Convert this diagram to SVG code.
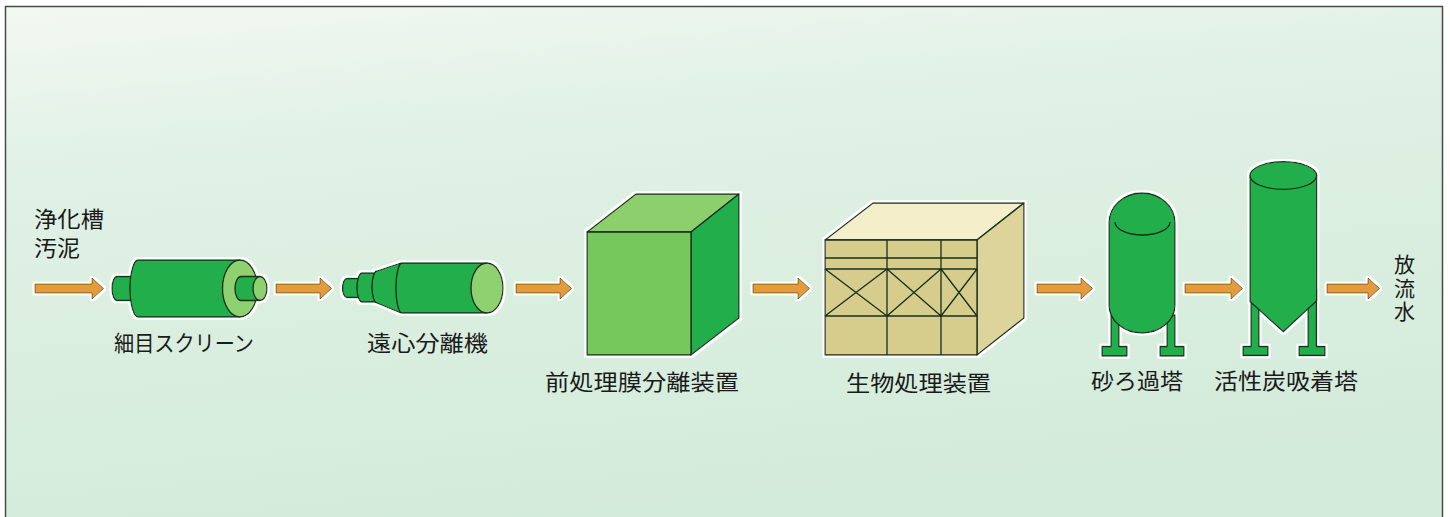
<svg xmlns="http://www.w3.org/2000/svg" width="1450" height="517" viewBox="0 0 1450 517">
  <style>
    .lbl { font-family: "Noto Sans CJK JP", "Noto Sans CJK SC", sans-serif; font-size: 22px; fill: #1a1a1a; }
    .vlbl { font-family: "Noto Sans CJK JP", "Noto Sans CJK SC", sans-serif; font-size: 21px; fill: #1a1a1a; letter-spacing: 2.5px; }
    .ol { stroke: #17301c; stroke-width: 1.3; stroke-linejoin: round; }
    .g { fill: #22ae4b; }
    .lt { fill: #8fd170; }
    .ln { fill: none; stroke: #17301c; stroke-width: 1.3; }
    .arw { fill: #e39b3a; stroke: #7a4c14; stroke-width: 0.9; stroke-linejoin: miter; }
  </style>
  <defs>
    <linearGradient id="bg" x1="0" y1="0" x2="0.25" y2="1">
      <stop offset="0" stop-color="#f3f8f2"/>
      <stop offset="0.3" stop-color="#e0f1e5"/>
      <stop offset="1" stop-color="#d3ebda"/>
    </linearGradient>
    <filter id="halo" x="-10%" y="-10%" width="120%" height="120%">
      <feMorphology in="SourceAlpha" operator="dilate" radius="2" result="d"/>
      <feFlood flood-color="#ffffff"/>
      <feComposite in2="d" operator="in" result="w"/>
      <feMerge><feMergeNode in="w"/><feMergeNode in="SourceGraphic"/></feMerge>
    </filter>
  </defs>

  <!-- panel -->
  <rect x="0" y="0" width="1450" height="517" fill="#ffffff"/>
  <rect x="5.5" y="6.5" width="1437" height="530" fill="url(#bg)" stroke="#4a4a4a" stroke-width="1.5"/>

  <!-- connectors -->
  <g id="connectors" filter="url(#halo)">
    <path class="arw" d="M35,284 H92 V278 L103.5,288.5 L92,299 V293 H35 Z"/>
    <path class="arw" d="M276,284 H320 V278 L331.5,288.5 L320,299 V293 H276 Z"/>
    <path class="arw" d="M516,284 H560 V278 L571.5,288.5 L560,299 V293 H516 Z"/>
    <path class="arw" d="M753,284 H798 V278 L809.5,288.5 L798,299 V293 H753 Z"/>
    <path class="arw" d="M1037,284 H1081 V278 L1092.5,288.5 L1081,299 V293 H1037 Z"/>
    <path class="arw" d="M1185,284 H1231 V278 L1242.5,288.5 L1231,299 V293 H1185 Z"/>
    <path class="arw" d="M1327,284 H1368 V278 L1379.5,288.5 L1368,299 V293 H1327 Z"/>
  </g>

  <!-- inlet -->
  <g id="inlet">
    <text class="lbl" x="34" y="227" textLength="70" lengthAdjust="spacingAndGlyphs">浄化槽</text>
    <text class="lbl" x="34" y="256" textLength="46" lengthAdjust="spacingAndGlyphs">汚泥</text>
  </g>

  <!-- fine screen -->
  <g id="fine-screen">
    <g filter="url(#halo)">
      <path class="g ol" d="M137,276.5 H117 A5,12 0 0 0 117,300.5 H137 Z"/>
      <path class="g ol" d="M240,260 H138 A8,28.5 0 0 0 138,317 H240 Z"/>
      <ellipse class="lt ol" cx="240" cy="288.5" rx="17.5" ry="28.5"/>
      <path class="g ol" d="M260,276.5 H241 A6,12 0 0 0 241,300.5 H260 Z"/>
      <ellipse class="lt ol" cx="260" cy="288.5" rx="7" ry="12"/>
    </g>
    <text class="lbl" x="114" y="351" textLength="140" lengthAdjust="spacingAndGlyphs">細目スクリーン</text>
  </g>

  <!-- centrifuge -->
  <g id="centrifuge">
    <g filter="url(#halo)">
      <path class="g ol" d="M362,278.5 H347 A4.5,9.5 0 0 0 347,297.5 H362 Z"/>
      <path class="g ol" d="M377,273 H362 A5,14.5 0 0 0 362,302 H377 Z"/>
      <path class="g ol" d="M401,263 L377,271 A5,16 0 0 0 377,303 L401,313 Z"/>
      <path class="g ol" d="M487,263 H402 A6,25 0 0 0 402,313 H487 Z"/>
      <ellipse class="lt ol" cx="487" cy="288" rx="16" ry="25"/>
    </g>
    <text class="lbl" x="367" y="351" textLength="121" lengthAdjust="spacingAndGlyphs">遠心分離機</text>
  </g>

  <!-- membrane pretreatment unit -->
  <g id="membrane-unit">
    <g filter="url(#halo)">
      <path class="ol" fill="#8ccf6c" d="M587,232 L636,194 H739 L691,232 Z"/>
      <path class="ol" fill="#22ae4b" d="M691,232 L739,194 V318 L691,355 Z"/>
      <rect class="ol" fill="#76c75b" x="587" y="232" width="104" height="123"/>
    </g>
    <text class="lbl" x="545" y="390" textLength="194" lengthAdjust="spacingAndGlyphs">前処理膜分離装置</text>
  </g>

  <!-- biological treatment unit -->
  <g id="bio-unit">
    <g filter="url(#halo)">
      <path class="ol" fill="#f4eecb" d="M825,240 L873,203 H1024 L977,240 Z"/>
      <path class="ol" fill="#ddd49b" d="M977,240 L1024,203 V318 L977,355 Z"/>
      <rect class="ol" fill="#d6cc8c" x="825" y="240" width="152" height="115"/>
    </g>
    <path class="ln" d="M887,240 V355 M941,240 V355 M825,258 H977 M825,269 H977 M825,316 H977 M825,269 L887,316 M887,269 L825,316 M887,269 L941,316 M941,269 L887,316 M941,269 L977,316 M977,269 L941,316"/>
    <text class="lbl" x="846" y="391" textLength="145" lengthAdjust="spacingAndGlyphs">生物処理装置</text>
  </g>

  <!-- sand filter -->
  <g id="sand-filter">
    <g filter="url(#halo)">
      <path class="g ol" d="M1111,315 V346.5 H1102 V356 H1127 V346.5 H1119 V315 Z"/>
      <path class="g ol" d="M1167,315 V346.5 H1160 V356 H1184 V346.5 H1175 V315 Z"/>
      <path class="g ol" d="M1109,223 A33,30 0 0 1 1175,223 V305 A33,28 0 0 1 1109,305 Z"/>
    </g>
    <path class="ln" d="M1115,222 A27.5,13 0 0 0 1170,222"/>
    <text class="lbl" x="1091" y="389" textLength="92" lengthAdjust="spacingAndGlyphs">砂ろ過塔</text>
  </g>

  <!-- activated carbon adsorption tower -->
  <g id="carbon-tower">
    <g filter="url(#halo)">
      <path class="g ol" d="M1251,290 V346.5 H1243 V355.5 H1268 V346.5 H1259 V290 Z"/>
      <path class="g ol" d="M1308,290 V346.5 H1299 V355.5 H1325 V346.5 H1316.5 V290 Z"/>
      <path class="g ol" d="M1250,175.5 V301.5 L1283.3,331.7 L1316.7,300.7 V175.5 Z"/>
      <ellipse class="g ol" cx="1283.3" cy="175.5" rx="33.4" ry="13.8"/>
    </g>
    <text class="lbl" x="1214" y="389" textLength="144" lengthAdjust="spacingAndGlyphs">活性炭吸着塔</text>
  </g>

  <!-- outlet, set vertically -->
  <g id="outlet">
    <text class="vlbl" x="1404.5" y="254" writing-mode="vertical-rl">放流水</text>
  </g>
</svg>
